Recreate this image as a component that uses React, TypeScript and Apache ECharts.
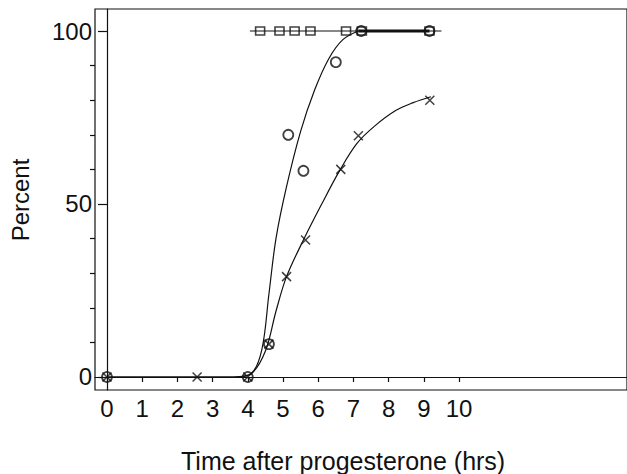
import React, { useEffect, useRef } from "react";
import * as echarts from "echarts";

// Observed data points (hours, percent)
const circleX = [0, 4, 4.6, 5.15, 5.58, 6.5, 7.22, 9.16];
const circleY = [0, 0, 9.5, 70, 59.6, 91, 100, 100];

const crossX = [0, 2.56, 4, 4.6, 5.1, 5.64, 6.64, 7.14, 9.17];
const crossY = [0, 0, 0, 9.5, 29, 39.6, 60, 69.7, 80];

const squareX = [4.35, 4.9, 5.33, 5.78, 6.79, 7.24, 9.16];
const squareY = [100, 100, 100, 100, 100, 100, 100];

// Fitted curves
const fitCircleX = [0, 3.6, 4.1, 4.4, 4.6, 4.8, 5.1, 5.5, 5.9, 6.3, 6.7, 7.14];
const fitCircleY = [0, 0, 1, 8, 24, 40, 55, 71, 83, 92, 97.5, 100];

const fitCrossX = [0, 3.6, 4.1, 4.5, 4.8, 5.1, 5.6, 6.1, 6.6, 7.1, 7.6, 8.2, 8.7, 9.2];
const fitCrossY = [0, 0, 1, 7.5, 19, 29, 40, 50, 59.5, 67.5, 72.5, 77, 79.3, 81];

const plateauX = [7.14, 9.16];
const plateauY = [100, 100];
const squareLineX = [4.06, 9.5];
const squareLineY = [100, 100];

const xTicks = [0, 1, 2, 3, 4, 5, 6, 7, 8, 9, 10];
const yMajor = [0, 50, 100];
const yMinor = [10, 20, 30, 40, 60, 70, 80, 90];

const zip = (xs: number[], ys: number[]) => xs.map((x, i) => [x, ys[i]]);

const FONT = "Liberation Sans, Arial, Helvetica, sans-serif";
const INK = "#111";

export default function App() {
  const ref = useRef<HTMLDivElement>(null);
  useEffect(() => {
    if (!ref.current) return;
    const chart = echarts.init(ref.current, undefined, { renderer: "svg" });
    const lineBase = {
      type: "line",
      showSymbol: false,
      symbol: "none",
      silent: true,
      lineStyle: { color: INK, width: 1.2 },
      z: 2,
    };
    chart.setOption({
      animation: false,
      backgroundColor: "#fff",
      grid: {
        left: 95,
        top: 9,
        right: -3,
        bottom: 84,
        show: true,
        borderColor: INK,
        borderWidth: 1.2,
        backgroundColor: "transparent",
      },
      xAxis: {
        type: "value",
        min: -0.34,
        max: 14.77,
        axisLine: { show: true, lineStyle: { color: INK, width: 1.2 } },
        axisTick: { show: true, customValues: xTicks, length: 5, lineStyle: { color: INK, width: 1.2 } },
        axisLabel: {
          show: true,
          customValues: xTicks,
          color: INK,
          fontSize: 24,
          fontFamily: FONT,
          margin: 6,
        },
        splitLine: { show: false },
      },
      yAxis: [
        {
          type: "value",
          min: -3.76,
          max: 106.36,
          axisLine: { show: true, lineStyle: { color: INK, width: 1.2 } },
          axisTick: { show: true, customValues: yMajor, length: 9, lineStyle: { color: INK, width: 1.2 } },
          axisLabel: {
            show: true,
            customValues: yMajor,
            color: INK,
            fontSize: 24,
            fontFamily: FONT,
            margin: 3,
          },
          splitLine: { show: false },
        },
        {
          type: "value",
          position: "left",
          min: -3.76,
          max: 106.36,
          axisLine: { show: false },
          axisTick: { show: true, customValues: yMinor, length: 5, lineStyle: { color: INK, width: 1.2 } },
          axisLabel: { show: false },
          splitLine: { show: false },
        },
      ],
      graphic: [
        {
          type: "text",
          x: 20,
          y: 200,
          rotation: Math.PI / 2,
          style: {
            text: "Percent",
            font: `24px ${FONT}`,
            fill: INK,
            textAlign: "center",
            textVerticalAlign: "middle",
          },
        },
        {
          type: "text",
          x: 181,
          y: 461,
          style: {
            text: "Time after progesterone (hrs)",
            font: `25px ${FONT}`,
            fill: INK,
            textAlign: "left",
            textVerticalAlign: "middle",
          },
        },
      ],
      series: [
        { ...lineBase, name: "fitCircle", data: zip(fitCircleX, fitCircleY), smooth: 0.35 },
        { ...lineBase, name: "fitCross", data: zip(fitCrossX, fitCrossY), smooth: 0.35 },
        { ...lineBase, name: "squareLine", data: zip(squareLineX, squareLineY) },
        { ...lineBase, name: "plateau", data: zip(plateauX, plateauY), lineStyle: { color: INK, width: 3 } },
        {
          type: "scatter",
          name: "circles",
          data: zip(circleX, circleY),
          symbol: "circle",
          symbolSize: 10,
          itemStyle: { color: "transparent", borderColor: INK, borderWidth: 1.8 },
          z: 3,
        },
        {
          type: "scatter",
          name: "crosses",
          data: zip(crossX, crossY),
          symbol: "path://M0,0L10,10M10,0L0,10",
          symbolSize: 9,
          itemStyle: { color: "transparent", borderColor: INK, borderWidth: 1.5 },
          z: 3,
        },
        {
          type: "scatter",
          name: "squares",
          data: zip(squareX, squareY),
          symbol: "rect",
          symbolSize: [9, 8],
          itemStyle: { color: "transparent", borderColor: INK, borderWidth: 1.5 },
          z: 3,
        },
      ],
    });
    return () => chart.dispose();
  }, []);
  return (
    <div
      ref={ref}
      style={{ position: "fixed", left: 0, top: 0, width: 627, height: 474 }}
    />
  );
}
